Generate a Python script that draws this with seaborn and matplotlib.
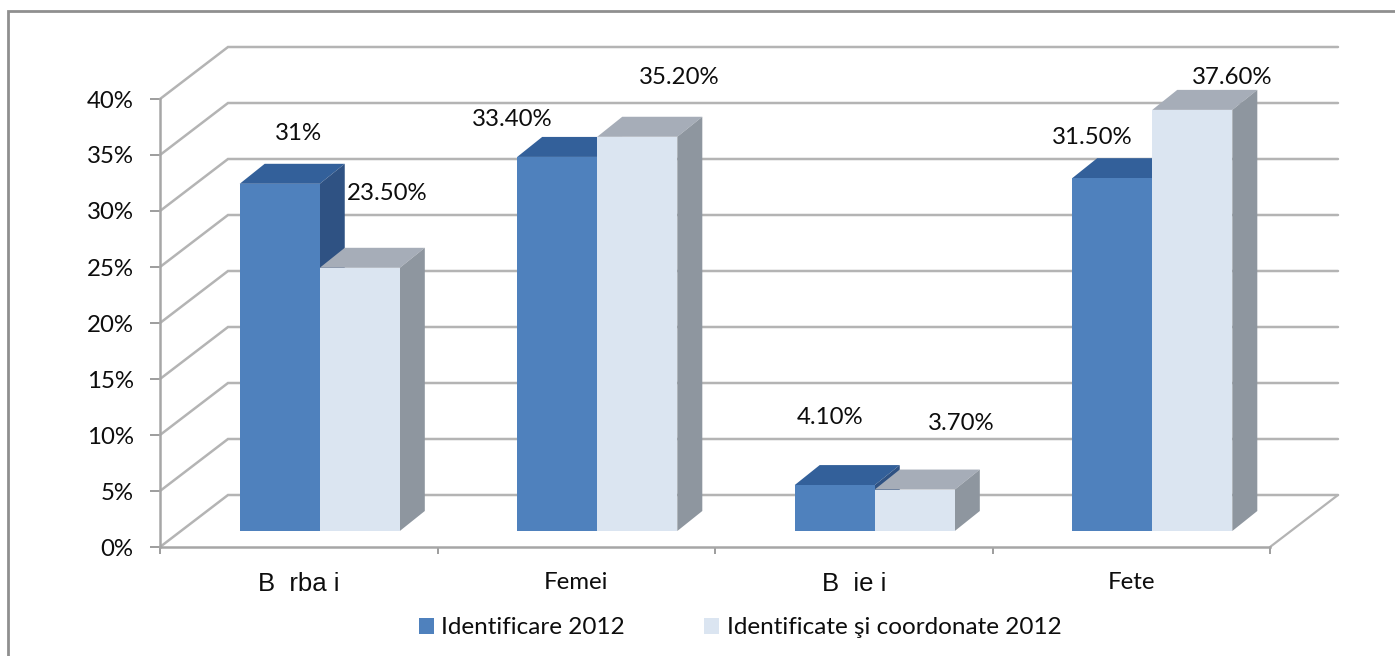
import matplotlib
matplotlib.use("Agg")
import matplotlib.pyplot as plt
from matplotlib.lines import Line2D
from matplotlib.patches import Polygon
from matplotlib.transforms import Affine2D
import pandas as pd
import seaborn as sns

categories = ["B  rba i", "Femei", "B  ie i", "Fete"]
series_names = ["Identificare 2012", "Identificate şi coordonate 2012"]
identificare = [31.0, 33.4, 4.1, 31.5]
coordonate = [23.5, 35.2, 3.7, 37.6]
value_labels = ["31%", "33.40%", "4.10%", "31.50%", "23.50%", "35.20%", "3.70%", "37.60%"]
y_ticks = [0, 5, 10, 15, 20, 25, 30, 35, 40]

# where the labels sit in the picture (pixels), same order as value_labels
label_px = [(298, 134), (512, 120), (830, 417), (1092, 138),
            (387, 194), (679, 77), (961, 423), (1232, 77)]

W, H = 1395, 656
AX_L, AX_R, AX_T, AX_B = 160, 1270, 99, 547
WALL_DX, WALL_DY = 68, 52   # depth of the back wall, pixels
BAR_DX, BAR_DY = 21, 16     # bars stand this far behind the front edge
TOP_DX, TOP_DY = 25, 20     # depth of one bar

FRONT = ["#4F81BD", "#DBE5F1"]
TOP = ["#33609A", "#A6ADB8"]
SIDE = ["#2F5283", "#8E969F"]
GRID = "#B4B4B4"
TEXT = "#0D0D0D"
FS = 17.3

df = pd.DataFrame({
    "cat": categories * 2,
    "val": identificare + coordonate,
    "serie": [series_names[0]] * 4 + [series_names[1]] * 4,
})

sns.set_theme(style="white")
plt.rcParams["font.family"] = ["Lato", "DejaVu Sans"]

fig = plt.figure(figsize=(W / 100, H / 100), dpi=100)
ax = fig.add_axes([AX_L / W, 1 - AX_B / H, (AX_R - AX_L) / W, (AX_B - AX_T) / H])
ax.patch.set_alpha(0)

sns.barplot(data=df, x="cat", y="val", hue="serie", palette=FRONT, saturation=1,
            width=0.577, gap=0, linewidth=0, ax=ax)
ax.set_xlim(-0.5, 3.5)
ax.set_ylim(0, 40)

px_x = 4 / (AX_R - AX_L)
px_y = 40 / (AX_B - AX_T)

# back wall, side wall and floor
wall_x = -0.5 + WALL_DX * px_x
wall_y = WALL_DY * px_y
for t in y_ticks:
    ax.plot([-0.5, wall_x, 3.5 + WALL_DX * px_x], [t, t + wall_y, t + wall_y],
            color=GRID, lw=1.8, clip_on=False, zorder=1, solid_joinstyle="miter")
ax.plot([3.5, 3.5 + WALL_DX * px_x], [0, wall_y], color=GRID, lw=1.6, clip_on=False, zorder=1)

# shift the bars back and give them a top and a side
shift = ax.transData + Affine2D().translate(BAR_DX, BAR_DY)
ddx, ddy = TOP_DX * px_x, TOP_DY * px_y
for i, cont in enumerate(ax.containers):
    for bar in cont:
        x, w, h = bar.get_x(), bar.get_width(), bar.get_height()
        bar.set_transform(shift)
        bar.set_clip_on(False)
        bar.set_zorder(5)
        top = [(x, h), (x + w, h), (x + w + ddx, h + ddy), (x + ddx, h + ddy)]
        side = [(x + w, 0), (x + w + ddx, ddy), (x + w + ddx, h + ddy), (x + w, h)]
        ax.add_patch(Polygon(top, facecolor=TOP[i], edgecolor="none", transform=shift,
                             clip_on=False, zorder=3 + i * 0.5))
        ax.add_patch(Polygon(side, facecolor=SIDE[i], edgecolor="none", transform=shift,
                             clip_on=False, zorder=3 + i * 0.5))

sns.despine(ax=ax)
for s in ["left", "bottom"]:
    ax.spines[s].set_color("#A6A6A6")
    ax.spines[s].set_linewidth(1.8)
    ax.spines[s].set_zorder(2)

ax.set_xlabel("")
ax.set_ylabel("")
ax.set_yticks(y_ticks)
ax.set_yticklabels([f"{t}%" for t in y_ticks], fontsize=FS, color=TEXT)
ax.tick_params(axis="y", length=7, width=1.2, color="#8C8C8C", pad=12, left=True)
ax.set_xticks([-0.5, 0.5, 1.5, 2.5, 3.5])
ax.set_xticklabels([])
ax.tick_params(axis="x", which="major", length=5, width=1.2, color="#8C8C8C", bottom=True)
ax.set_xticks(range(4), categories, minor=True)
ax.tick_params(axis="x", which="minor", length=0, pad=18, labelsize=FS, labelcolor=TEXT)
for lab in ax.get_xticklabels(minor=True):
    if lab.get_text().startswith("B"):
        lab.set_family("Liberation Sans")
        lab.set_fontsize(18.5)

for text, (px, py) in zip(value_labels, label_px):
    fig.text(px / W, 1 - py / H, text, ha="center", va="center", fontsize=FS, color=TEXT)

handles, labels = ax.get_legend_handles_labels()
ax.legend(handles, labels, ncol=2, frameon=False, fontsize=17.5, loc="center",
          bbox_to_anchor=((740 - AX_L) / (AX_R - AX_L), (AX_B - 628) / (AX_B - AX_T)),
          handlelength=0.62, handleheight=0.62, handletextpad=0.31, columnspacing=3.25,
          labelcolor=TEXT)

# the frame only shows on the top and left, cropped on the other two sides
fig.add_artist(Line2D([8 / W, 8 / W, 1], [0, 1 - 11 / H, 1 - 11 / H], transform=fig.transFigure,
                      color="#8F8F8F", lw=2, solid_joinstyle="miter"))

fig.savefig("out.png", dpi=100)
plt.close(fig)
